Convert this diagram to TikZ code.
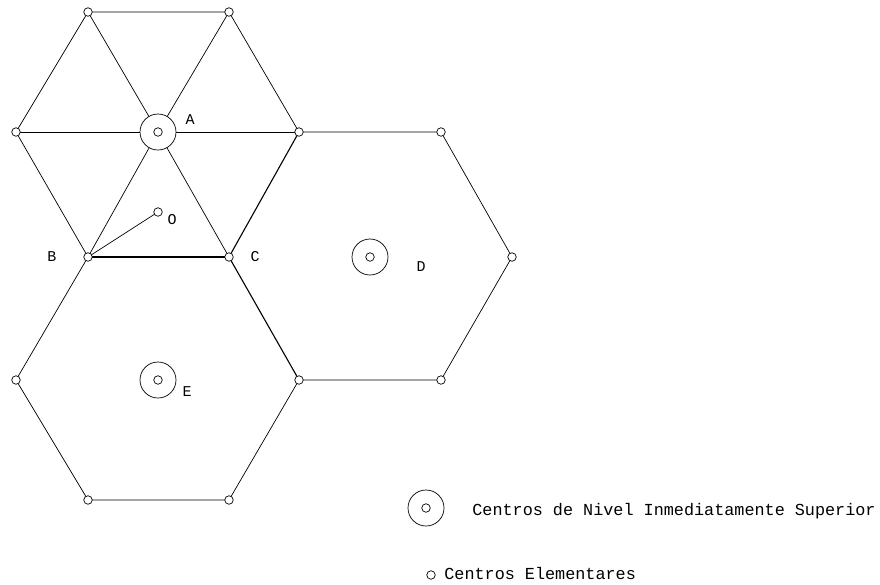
\documentclass[tikz,border=0pt]{standalone}
\usepackage{fontspec}
\setmonofont{Liberation Mono}
\usepackage{tikz}
\usetikzlibrary{calc}

\tikzset{
	vtx/.style={circle,draw,fill=white,inner sep=0pt,minimum size=8.5pt},
	centro/.style={circle,draw,fill=white,inner sep=0pt,minimum size=36pt},
	rotulo/.style={font=\ttfamily\fontsize{15}{15}\selectfont,inner sep=0pt},
	legenda/.style={font=\ttfamily\fontsize{16.8}{17}\selectfont,inner sep=0pt,anchor=west}
}

\begin{document}
\begin{tikzpicture}[x=1pt,y=-1pt,line width=0.7pt]
			\useasboundingbox (0,0) rectangle (880,584);
			% vertices
			\coordinate (v1) at (88,12);
			\coordinate (v2) at (229,12);
			\coordinate (v3) at (299,132);
			\coordinate (C) at (229,257);
			\coordinate (B) at (88,257);
			\coordinate (v6) at (16,132);
			\coordinate (d1) at (441,132);
			\coordinate (d2) at (512,257);
			\coordinate (d3) at (441,380);
			\coordinate (e1) at (299,380);
			\coordinate (e2) at (229,500);
			\coordinate (e3) at (88,500);
			\coordinate (e4) at (16,380);
			\coordinate (A) at (158,132);
			\coordinate (D) at (370,257);
			\coordinate (E) at (158,380);
			\coordinate (O) at (158,212);
			% hexagonos
			\draw (v1) -- (v2) -- (v3);
			\draw (C) -- (B);
			\draw (B) -- (v6) -- (v1);
			\draw (v3) -- (d1) -- (d2) -- (d3) -- (e1);
			\draw (B) -- (e4) -- (e3) -- (e2) -- (e1);
			\draw[line width=1.1pt] (v3) -- (C) -- (e1);
			\draw[line width=1.1pt] (B) -- (C);
			\foreach \v in {v1,v2,v3,C,B,v6}{
				\draw (A) -- (\v);
			}
			\draw (B) -- (O);
			% centros
			\foreach \c in {A,D,E}{
				\node[centro] (n\c) at (\c) {};
				\node[vtx] at (\c) {};
			}
			\foreach \v in {v1,v2,v3,C,B,v6,d1,d2,d3,e1,e2,e3,e4,O}{
				\node[vtx] (n\v) at (\v) {};
			}
			% rotulos
			\node[rotulo] (lA) at (190,120) {A};
			\node[rotulo] (lB) at (52,257) {B};
			\node[rotulo] (lC) at (255,257) {C};
			\node[rotulo] (lD) at (421,267) {D};
			\node[rotulo] (lE) at (187,392) {E};
			\node[rotulo] (lO) at (172,220) {O};
			% legenda
			\node[centro] (g1) at (426,508) {};
			\node[vtx] (g1i) at (426,508) {};
			\node[legenda] (t1) at (472,511) {Centros de Nivel Inmediatamente Superior};
			\node[vtx] (g2) at (431,575) {};
			\node[legenda] (t2) at (444,573) {Centros Elementares};
		\end{tikzpicture}
\end{document}
